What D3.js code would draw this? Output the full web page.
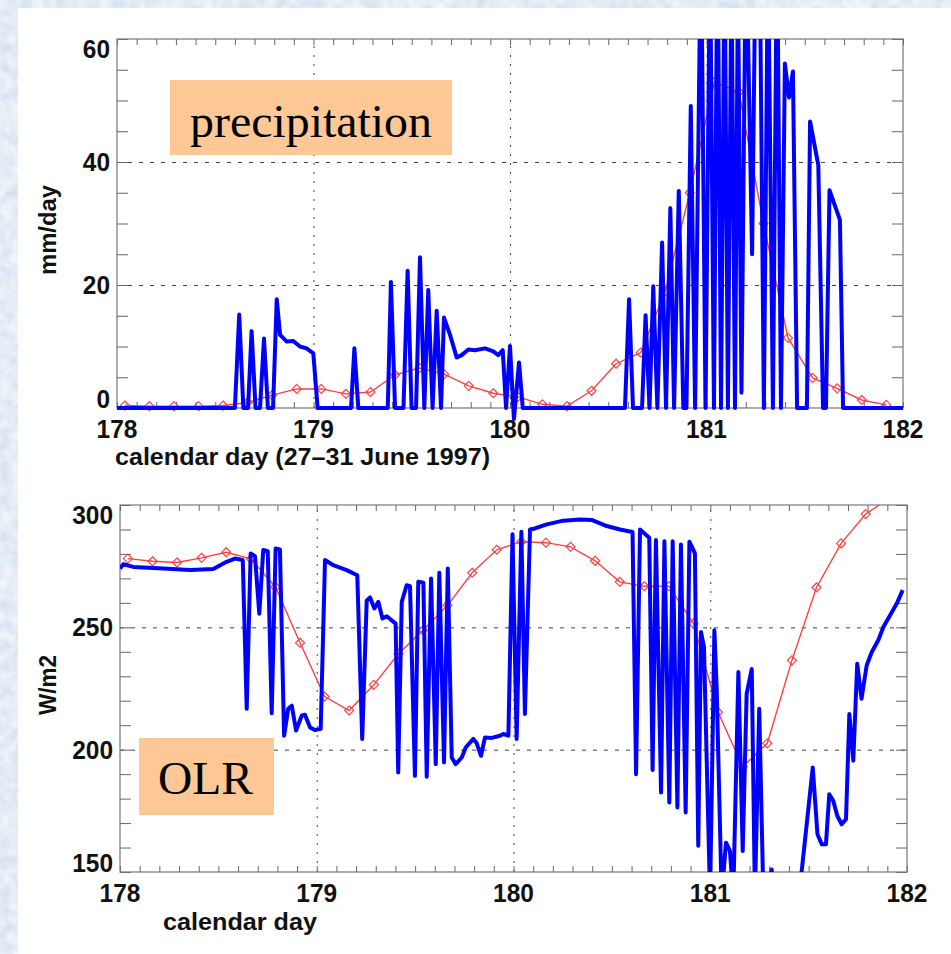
<!DOCTYPE html>
<html>
<head>
<meta charset="utf-8">
<script src="https://cdn.jsdelivr.net/npm/d3@7"></script>
<style>
  body { margin: 0; background: #fff; }
  svg { display: block; }
  .lab { font-family: "Liberation Sans", Arial, Helvetica, sans-serif; font-weight: bold; fill: #111; }
  .box-text { font-family: "Liberation Serif", "Times New Roman", serif; fill: #000; }
</style>
</head>
<body>
<div id="chart"></div>
<script>
// ---- data ----
var dayTicks = [178, 179, 180, 181, 182];
var precipTicks = [0, 20, 40, 60];
var olrTicks = [150, 200, 250, 300];

// model (red, 3-hourly, diamonds)
var modelDay = [178.04, 178.165, 178.29, 178.415, 178.54, 178.665, 178.79, 178.915,
  179.04, 179.165, 179.29, 179.415, 179.54, 179.665, 179.79, 179.915,
  180.04, 180.165, 180.29, 180.415, 180.54, 180.665, 180.79, 180.915,
  181.04, 181.165, 181.29, 181.415, 181.54, 181.665, 181.79, 181.915];
var precipModel = [0.4, 0.3, 0.3, 0.3, 0.4, 0.9, 2.1, 3.1,
  3.1, 2.3, 2.6, 5.4, 6.5, 5.5, 3.6, 2.4,
  1.8, 0.6, 0.3, 2.8, 7.2, 9.0, 19, 35,
  53, 51.4, 30, 11.4, 4.9, 3.2, 1.3, 0.5];
var olrModel = [278.1, 277.0, 276.5, 278.4, 280.7, 278, 266.5, 243.7,
  221.7, 216.0, 226.5, 239.2, 248.8, 259, 272.3, 281.7,
  285, 284.6, 282.9, 277.2, 268.6, 266.8, 266.8, 251.5,
  215.3, 193, 202.6, 236.5, 266.3, 284.3, 296.3, 303];

// observed (blue) [day, value]
var precipObs = [
  [178.000, 0], [178.600, 0], [178.622, 15.2], [178.643, 0], [178.667, 0], [178.685, 12.5],
  [178.705, 0], [178.728, 0], [178.748, 11.3], [178.768, 0], [178.794, 0], [178.813, 17.7],
  [178.830, 11.9], [178.864, 10.8], [178.897, 10.9], [178.931, 10.0], [178.965, 9.7],
  [178.999, 8.9], [179.021, 0], [179.191, 0], [179.208, 9.7], [179.228, 0], [179.378, 0],
  [179.394, 20.5], [179.415, 0], [179.458, 0], [179.479, 22.3], [179.499, 0], [179.522, 0],
  [179.542, 24.5], [179.564, 0], [179.584, 19.2], [179.606, 0], [179.627, 15.8], [179.649, 0],
  [179.664, 14.7], [179.695, 11.9], [179.729, 8.2], [179.754, 8.6], [179.788, 9.5],
  [179.822, 9.4], [179.873, 9.7], [179.915, 9.2], [179.940, 8.6], [179.963, 9.4],
  [179.980, 0], [180.000, 10.1], [180.020, -1.8], [180.046, 7.4], [180.065, 0],
  [180.585, 0], [180.606, 17.7], [180.626, 0], [180.672, 0], [180.690, 15.1], [180.710, 0],
  [180.729, 19.8], [180.750, 0], [180.774, 26.9], [180.794, 0], [180.816, 32.5], [180.835, 0],
  [180.859, 35.3], [180.882, 0], [180.898, 0], [180.920, 49.1], [180.942, 0], [180.972, 78],
  [180.995, 0], [181.018, 75], [181.038, 0], [181.056, 80], [181.074, 0], [181.092, 75],
  [181.109, 0], [181.127, 72], [181.145, 0], [181.160, 70], [181.178, 2.5], [181.201, 78],
  [181.232, 25], [181.252, 80], [181.272, 70], [181.292, 0], [181.313, 75], [181.338, 0],
  [181.359, 78], [181.379, 0], [181.399, 56], [181.420, 50.5], [181.440, 54.7], [181.461, 0],
  [181.511, 0], [181.527, 46.6], [181.569, 39.5], [181.593, 0], [181.608, 0], [181.626, 35.4],
  [181.679, 30.6], [181.695, 0], [182.000, 0]
];

var olrObs = [
  [178.000, 274], [178.017, 275.8], [178.068, 274.7], [178.220, 274], [178.356, 273.4],
  [178.474, 273.8], [178.542, 276.8], [178.584, 278.1], [178.624, 277.5], [178.644, 216.7],
  [178.664, 280.2], [178.686, 279.1], [178.708, 255.6], [178.728, 281.6], [178.751, 281.1],
  [178.771, 214.9], [178.791, 282.2], [178.813, 281.8], [178.834, 205.7], [178.855, 216.7],
  [178.873, 218.0], [178.895, 207.8], [178.924, 214.0], [178.940, 214.3], [178.966, 209.1],
  [178.991, 208.0], [179.020, 208.5], [179.042, 277.5], [179.084, 275.4], [179.152, 273.4],
  [179.206, 271.3], [179.231, 204.4], [179.254, 261.0], [179.271, 262.2], [179.293, 257.7],
  [179.313, 260.4], [179.334, 253.6], [179.356, 254.5], [179.377, 253.1], [179.401, 251.5],
  [179.414, 190.7], [179.432, 260.4], [179.457, 267.2], [179.474, 266.8], [179.499, 189.3],
  [179.516, 268.6], [179.542, 268.2], [179.559, 188.9], [179.581, 270.0], [179.605, 194.1],
  [179.623, 272.3], [179.647, 194.8], [179.666, 274.0], [179.686, 196.8], [179.706, 194.1],
  [179.737, 196.8], [179.757, 200.9], [179.796, 204.4], [179.813, 202.6], [179.835, 197.5],
  [179.855, 205.0], [179.889, 204.8], [179.931, 205.7], [179.948, 206.4], [179.974, 205.7],
  [179.995, 288.0], [180.016, 204.4], [180.040, 289.1], [180.058, 214.6], [180.084, 290.0],
  [180.109, 290.4], [180.169, 292.1], [180.253, 293.6], [180.338, 294.1], [180.397, 293.9],
  [180.474, 291.4], [180.541, 290.0], [180.605, 289.0], [180.623, 190.0], [180.643, 290.0],
  [180.690, 286.6], [180.707, 191.7], [180.724, 285.7], [180.750, 182.5], [180.767, 285.2],
  [180.792, 178.4], [180.809, 285.2], [180.833, 176.4], [180.851, 283.9], [180.875, 174.3],
  [180.894, 285.0], [180.922, 280.2], [180.939, 160.7], [180.953, 248.1], [180.968, 241.9],
  [180.999, 140], [181.021, 248.8], [181.033, 224.2], [181.058, 140], [181.080, 162.0],
  [181.100, 158.6], [181.117, 140], [181.143, 231.7], [181.165, 158.6], [181.185, 222.8],
  [181.211, 233.0], [181.227, 140], [181.249, 216.7], [181.270, 140], [181.288, 140],
  [181.312, 151], [181.329, 140], [181.451, 140], [181.521, 192.7], [181.545, 165.4],
  [181.567, 161.3], [181.588, 161.3], [181.605, 181.8], [181.625, 179.1], [181.646, 172.9],
  [181.668, 169.5], [181.690, 171.6], [181.707, 214.6], [181.727, 195.5], [181.747, 235.1],
  [181.769, 220.8], [181.795, 234.4], [181.821, 239.9], [181.854, 244.7], [181.880, 250.1],
  [181.914, 254.9], [181.948, 259.7], [181.978, 265.2]
];

var svgWidth = 951;
var svgHeight = 954;

var svg = d3.select("#chart")
  .append("svg")
  .attr("width", svgWidth)
  .attr("height", svgHeight);

var defs = svg.append("defs");

// mottled light blue slide background
var tex = defs.append("filter").attr("id", "tex")
  .attr("x", 0).attr("y", 0).attr("width", 1).attr("height", 1);
tex.append("feTurbulence")
  .attr("type", "fractalNoise")
  .attr("baseFrequency", "0.09")
  .attr("numOctaves", 2)
  .attr("seed", 4);
tex.append("feColorMatrix")
  .attr("type", "matrix")
  .attr("values", "0.35 0 0 0 0.6  0.28 0 0 0 0.7  0.12 0 0 0 0.86  0 0 0 0 1");

svg.append("rect")
  .attr("width", svgWidth).attr("height", svgHeight)
  .attr("fill", "#c8daf1")
  .attr("filter", "url(#tex)");

svg.append("rect")
  .attr("x", 18).attr("y", 8)
  .attr("width", svgWidth - 18).attr("height", svgHeight - 8)
  .attr("fill", "#ffffff");

var panels = [
  { id: "p1", left: 117, right: 903, top: 39, bottom: 408, yDomain: [0, 60],
    yTicks: precipTicks, yMinor: 5, obs: precipObs, model: precipModel, clipExtra: 14 },
  { id: "p2", left: 120, right: 907, top: 505, bottom: 872, yDomain: [150, 300],
    yTicks: olrTicks, yMinor: 10, obs: olrObs, model: olrModel, clipExtra: 0 }
];

function labW(s) { return s.length * 13.6; }

panels.forEach(function(p) {
  var x = d3.scaleLinear().domain([178, 182]).range([p.left, p.right]);
  var y = d3.scaleLinear().domain(p.yDomain).range([p.bottom, p.top]);
  var w = p.right - p.left;
  var h = p.bottom - p.top;

  var g = svg.append("g");

  // grid lines
  g.append("g")
    .attr("transform", `translate(0, ${p.bottom})`)
    .call(d3.axisBottom(x).tickValues(dayTicks.slice(1, -1)).tickSize(-h).tickFormat(""))
    .call(a => a.select(".domain").remove())
    .selectAll("line")
    .attr("stroke", "#444").attr("stroke-width", 1).attr("stroke-dasharray", "2,7");

  g.append("g")
    .attr("transform", `translate(${p.left}, 0)`)
    .call(d3.axisLeft(y).tickValues(p.yTicks.slice(1, -1)).tickSize(-w).tickFormat(""))
    .call(a => a.select(".domain").remove())
    .selectAll("line")
    .attr("stroke", "#444").attr("stroke-width", 1).attr("stroke-dasharray", "4,7");

  // minor ticks on all four sides, pointing in
  var minorX = d3.range(178, 182.001, 0.1);
  var minorY = d3.range(p.yDomain[0], p.yDomain[1] + 0.001, p.yMinor);

  function tickStyle(a) {
    a.select(".domain").remove();
    a.selectAll("line").attr("stroke", "#666").attr("stroke-width", 1);
  }
  g.append("g").attr("transform", `translate(0, ${p.bottom})`)
    .call(d3.axisBottom(x).tickValues(minorX).tickSize(-6).tickFormat("")).call(tickStyle);
  g.append("g").attr("transform", `translate(0, ${p.top})`)
    .call(d3.axisTop(x).tickValues(minorX).tickSize(-6).tickFormat("")).call(tickStyle);
  g.append("g").attr("transform", `translate(${p.left}, 0)`)
    .call(d3.axisLeft(y).tickValues(minorY).tickSize(-11).tickFormat("")).call(tickStyle);
  g.append("g").attr("transform", `translate(${p.right}, 0)`)
    .call(d3.axisRight(y).tickValues(minorY).tickSize(-11).tickFormat("")).call(tickStyle);

  // frame
  g.append("rect")
    .attr("x", p.left).attr("y", p.top)
    .attr("width", w).attr("height", h)
    .attr("fill", "none").attr("stroke", "#777").attr("stroke-width", 1.2);

  // clip
  defs.append("clipPath").attr("id", "clip-" + p.id)
    .append("rect")
    .attr("x", p.left).attr("y", p.top)
    .attr("width", w).attr("height", h + p.clipExtra);

  var plot = g.append("g").attr("clip-path", `url(#clip-${p.id})`);

  var modelPts = d3.zip(modelDay, p.model);
  var line = d3.line().x(d => x(d[0])).y(d => y(d[1]));

  plot.append("path")
    .datum(modelPts)
    .attr("d", line)
    .attr("fill", "none")
    .attr("stroke", "#ff4040")
    .attr("stroke-width", 1.4);

  plot.selectAll(".diamond")
    .data(modelPts)
    .enter()
    .append("path")
    .attr("class", "diamond")
    .attr("transform", d => `translate(${x(d[0])}, ${y(d[1])})`)
    .attr("d", "M0,-4.5L4.5,0L0,4.5L-4.5,0Z")
    .attr("fill", "none")
    .attr("stroke", "#ff4040")
    .attr("stroke-width", 1.2);

  plot.append("path")
    .datum(p.obs)
    .attr("d", line)
    .attr("fill", "none")
    .attr("stroke", "#0000ff")
    .attr("stroke-width", 4)
    .attr("stroke-linejoin", "round");

  // y tick labels (end labels nudged inward like the original)
  p.yTicks.forEach(function(v, i) {
    var shift = 0;
    if (i === 0) shift = -9;
    if (i === p.yTicks.length - 1) shift = 10;
    var s = String(v);
    g.append("text")
      .attr("class", "lab")
      .attr("x", p.left - 7)
      .attr("y", y(v) + shift + 9)
      .attr("text-anchor", "end")
      .attr("font-size", "26px")
      .attr("textLength", labW(s))
      .attr("lengthAdjust", "spacingAndGlyphs")
      .text(s);
  });

  // x tick labels
  dayTicks.forEach(function(v) {
    var s = String(v);
    g.append("text")
      .attr("class", "lab")
      .attr("x", x(v))
      .attr("y", p.bottom + 30)
      .attr("text-anchor", "middle")
      .attr("font-size", "26px")
      .attr("textLength", labW(s))
      .attr("lengthAdjust", "spacingAndGlyphs")
      .text(s);
  });
});

// axis titles
svg.append("text")
  .attr("class", "lab")
  .attr("x", 115).attr("y", 465)
  .attr("font-size", "24px")
  .attr("textLength", 375)
  .attr("lengthAdjust", "spacingAndGlyphs")
  .text("calendar day (27\u201331 June 1997)");

svg.append("text")
  .attr("class", "lab")
  .attr("x", 163).attr("y", 930)
  .attr("font-size", "24px")
  .attr("textLength", 154)
  .attr("lengthAdjust", "spacingAndGlyphs")
  .text("calendar day");

svg.append("text")
  .attr("class", "lab")
  .attr("transform", "translate(56, 230) rotate(-90)")
  .attr("text-anchor", "middle")
  .attr("font-size", "23px")
  .attr("textLength", 90)
  .attr("lengthAdjust", "spacingAndGlyphs")
  .text("mm/day");

svg.append("text")
  .attr("class", "lab")
  .attr("transform", "translate(56, 685) rotate(-90)")
  .attr("text-anchor", "middle")
  .attr("font-size", "23px")
  .attr("textLength", 60)
  .attr("lengthAdjust", "spacingAndGlyphs")
  .text("W/m2");

// labels in peach boxes
var boxes = [
  { text: "precipitation", x: 170, y: 80, w: 282, h: 75, tx: 190, ty: 137, tl: 242 },
  { text: "OLR", x: 139, y: 738, w: 135, h: 77, tx: 158, ty: 794, tl: 95 }
];
boxes.forEach(function(b) {
  svg.append("rect")
    .attr("x", b.x).attr("y", b.y)
    .attr("width", b.w).attr("height", b.h)
    .attr("fill", "#fdc896");
  svg.append("text")
    .attr("class", "box-text")
    .attr("x", b.tx).attr("y", b.ty)
    .attr("font-size", "47px")
    .attr("textLength", b.tl)
    .attr("lengthAdjust", "spacingAndGlyphs")
    .text(b.text);
});
</script>
</body>
</html>
